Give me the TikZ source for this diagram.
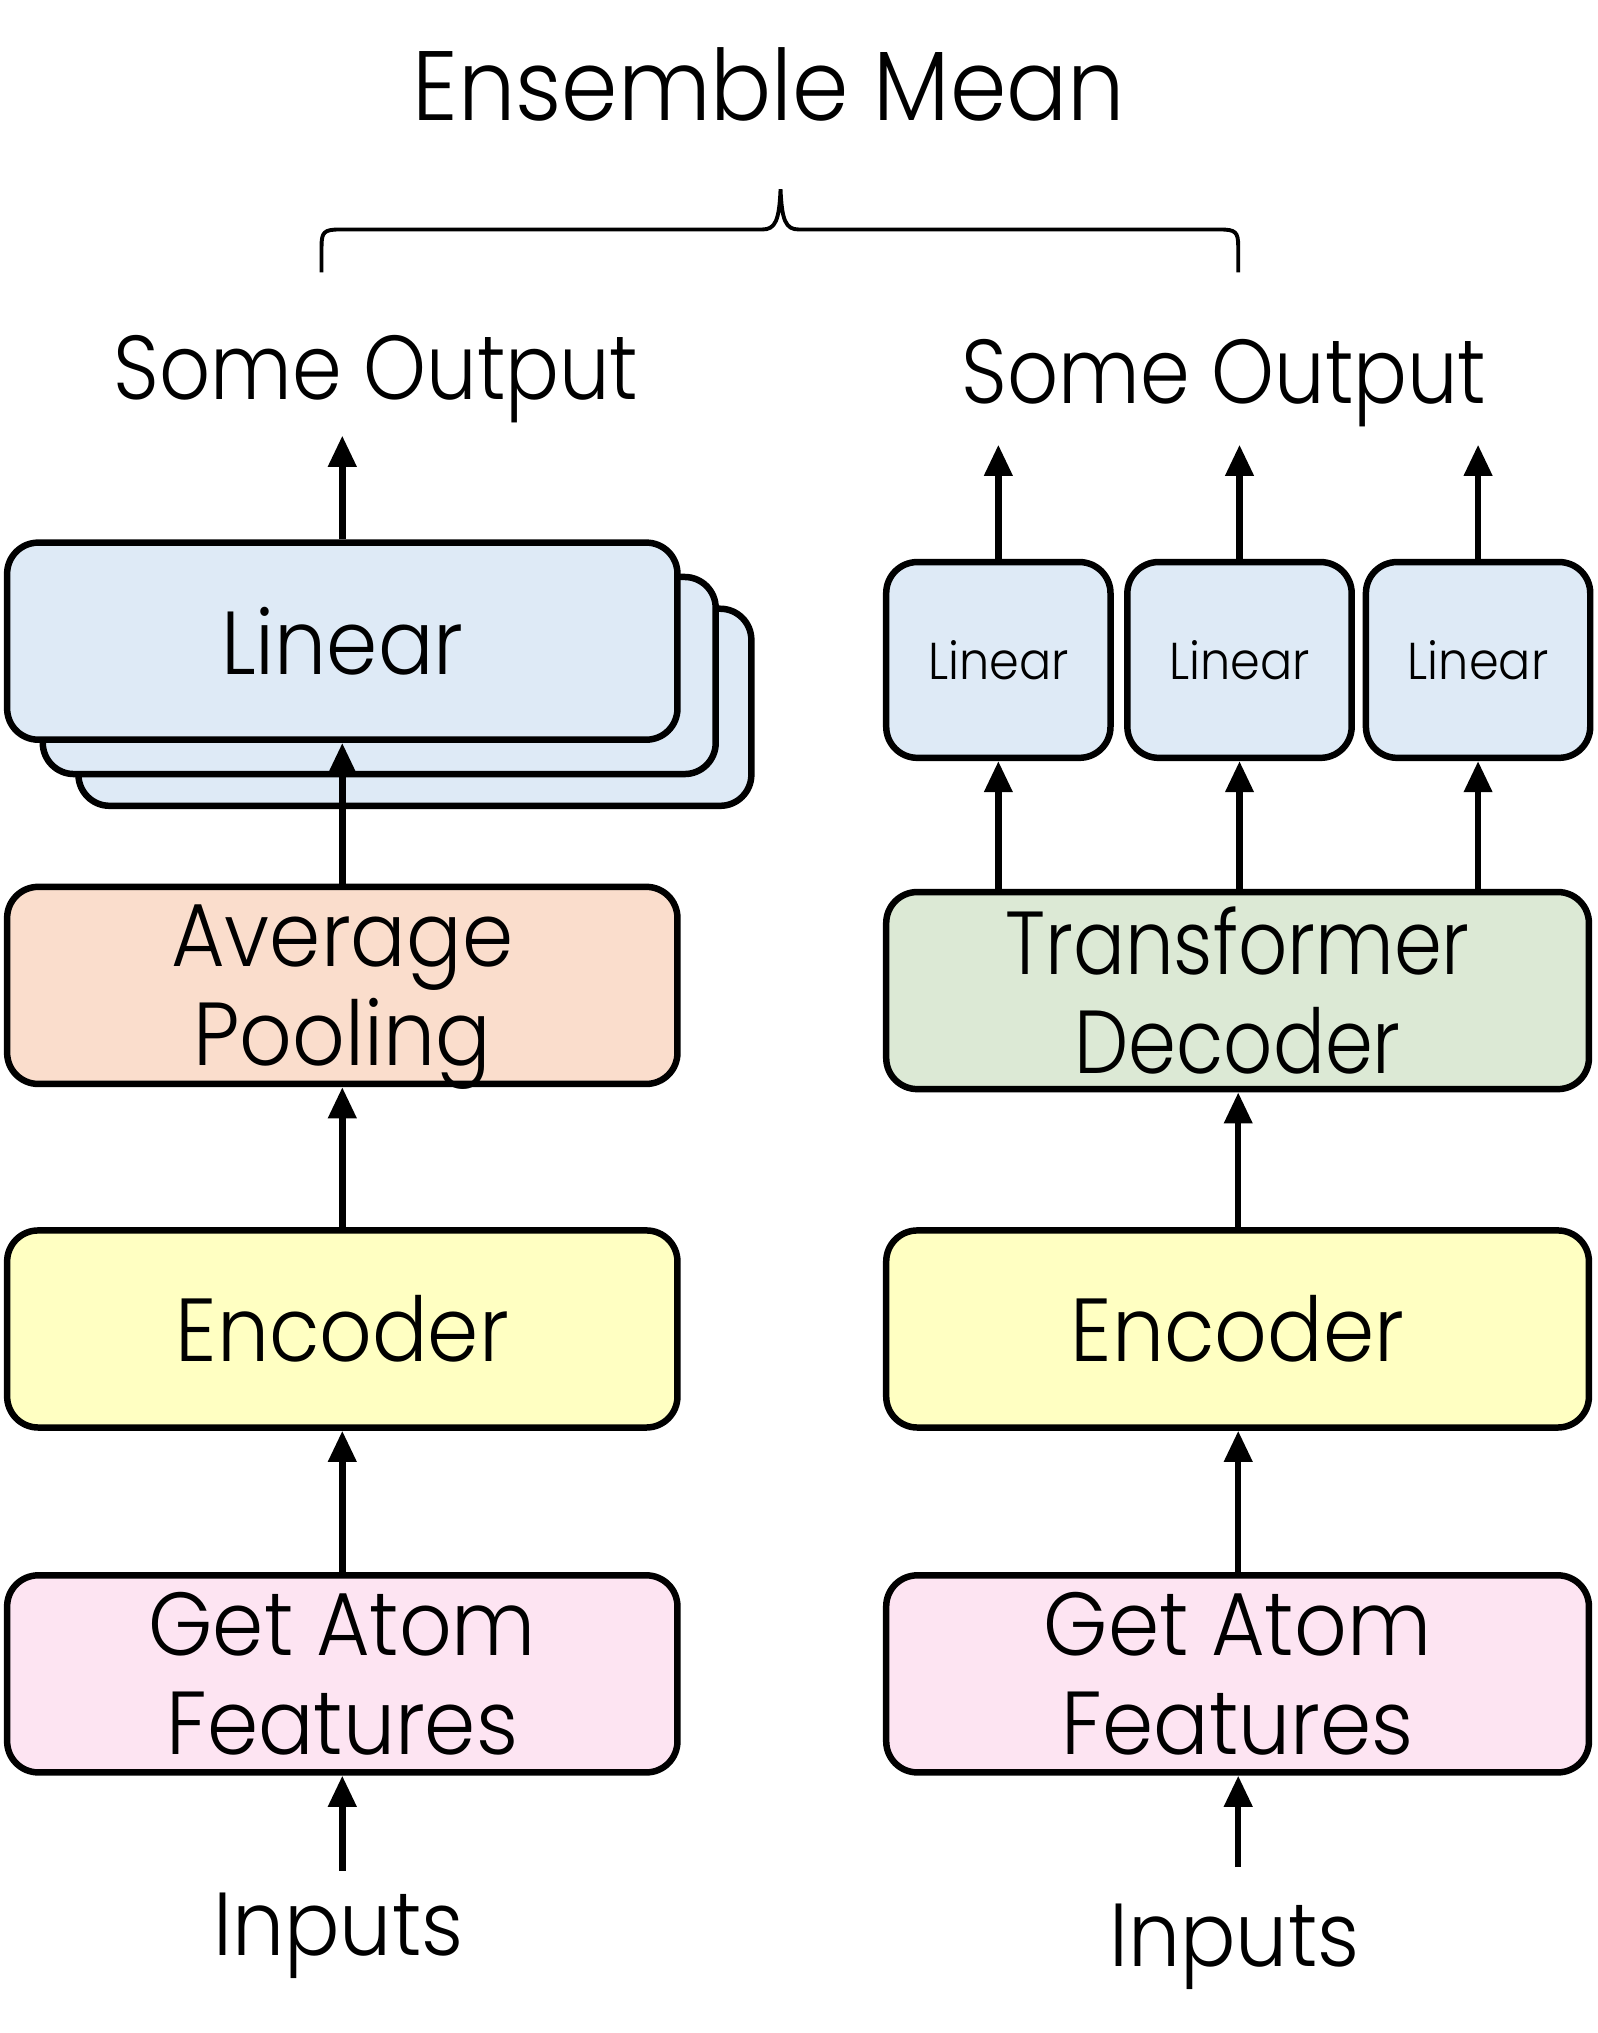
\documentclass[tikz,border=0pt]{standalone}
\usepackage{fontspec}
\setmainfont{Poppins Light}[FakeStretch=0.92]
\usetikzlibrary{arrows.meta}

\definecolor{linblue}{RGB}{222,234,246}
\definecolor{poolpeach}{RGB}{250,221,204}
\definecolor{encyellow}{RGB}{255,255,194}
\definecolor{featpink}{RGB}{253,228,242}
\definecolor{decgreen}{RGB}{220,233,213}

\begin{document}
\begin{tikzpicture}[x=1pt,y=-1pt,
    box/.style={draw,line width=5pt,rounded corners=24pt,inner sep=0pt,
      minimum height=152pt,align=center,font=\fontsize{69}{76}\selectfont},
    lbl/.style={anchor=base,inner sep=0pt},
    flow/.style={-{Triangle[length=24pt,width=21pt]},line width=5pt}]
  \useasboundingbox (0,0) rectangle (1232,1568);
  % title and brace
  \node[lbl,font=\fontsize{76}{80}\selectfont] (mean) at (593,93) {Ensemble Mean};
  \draw[line width=3pt] (248,210) -- (248,190) .. controls (248,179) and (250,177) .. (262,177)
    -- (588,177) .. controls (598,177) and (601,170) .. (602,146)
    .. controls (603,170) and (606,177) .. (616,177)
    -- (941,177) .. controls (953,177) and (955,179) .. (955,190) -- (955,210);
  \node[lbl,font=\fontsize{70}{76}\selectfont\addfontfeature{FakeStretch=0.88}] (someL) at (290,308) {Some Output};
  \node[lbl,font=\fontsize{70}{76}\selectfont\addfontfeature{FakeStretch=0.88}] (someR) at (944,311) {Some Output};
  % left column
  \node[box,fill=linblue,minimum width=519pt] (linC) at (320,545.5) {};
  \node[box,fill=linblue,minimum width=519pt] (linB) at (292.5,521) {};
  \node[box,fill=linblue,minimum width=517pt] (linA) at (264,494.5) {Linear};
  \node[box,fill=poolpeach,minimum width=517pt,text depth=0pt] (poolL) at (264,760) {Average\\Pooling};
  \node[box,fill=encyellow,minimum width=517pt] (encL) at (264,1025) {Encoder};
  \node[box,fill=featpink,minimum width=517pt] (featL) at (264,1291) {Get Atom\\Features};
  \node[lbl,font=\fontsize{69}{76}\selectfont] (inL) at (261,1508) {Inputs};
  % right column
  \foreach \i/\x in {1/770,2/956,3/1140}
    \node[box,fill=linblue,minimum width=173pt,minimum height=151pt,
      font=\fontsize{40}{44}\selectfont] (lin\i) at (\x,509) {Linear};
  \node[box,fill=decgreen,minimum width=542pt,
    font=\fontsize{69}{76}\selectfont\addfontfeature{FakeStretch=0.86}] (dec) at (954.5,764) {Transformer\\Decoder};
  \node[box,fill=encyellow,minimum width=542pt] (encR) at (954.5,1025) {Encoder};
  \node[box,fill=featpink,minimum width=542pt] (featR) at (954.5,1291) {Get Atom\\Features};
  \node[lbl,font=\fontsize{69}{76}\selectfont] (inR) at (952,1517) {Inputs};
  % free ends
  \coordinate (srcL) at (264,1443);
  \coordinate (srcR) at (955,1440);
  \coordinate (outL) at (264,336);
  \foreach \i/\x in {1/770,2/956,3/1140}
    \coordinate (out\i) at (\x,343);
  % connectors
  \draw[flow] (srcL) -- (featL.south);
  \draw[flow] (featL.north) -- (encL.south);
  \draw[flow] (encL.north) -- (poolL.south);
  \draw[flow] (poolL.north) -- (linA.south);
  \draw[flow] (linA.north) -- (outL);
  \draw[flow] (srcR) -- (featR.south -| srcR);
  \draw[flow] (featR.north -| srcR) -- (encR.south -| srcR);
  \draw[flow] (encR.north -| srcR) -- (dec.south -| srcR);
  \foreach \i in {1,2,3} {
    \draw[flow] (dec.north -| lin\i) -- (lin\i.south);
    \draw[flow] (lin\i.north) -- (out\i);
  }
\end{tikzpicture}
\end{document}
